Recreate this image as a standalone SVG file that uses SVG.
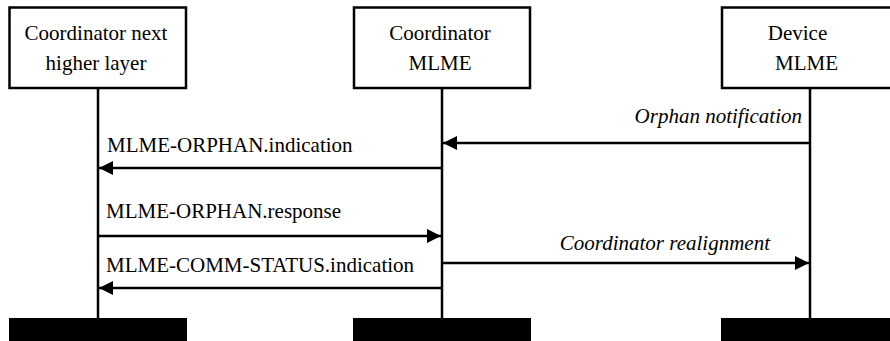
<svg xmlns="http://www.w3.org/2000/svg" width="890" height="341" viewBox="0 0 890 341">
<style>
.box{fill:#fff;stroke:#000;stroke-width:2.5}
.life{stroke:#000;stroke-width:2.5}
.bar{fill:#000}
.c{text-anchor:middle}
.msg{stroke:#000;stroke-width:2.5;fill:none;marker-end:url(#ah)}
</style>
<defs>
<marker id="ah" markerUnits="userSpaceOnUse" markerWidth="14" markerHeight="14" refX="14" refY="7" orient="auto">
<path d="M0,0 L14,7 L0,14 Z" fill="#000"/>
</marker>
</defs>
<g font-family="Liberation Serif, DejaVu Serif, serif" font-size="21" fill="#000">
<g id="n1">
<rect class="box" x="9.5" y="7.5" width="176.5" height="80.5"/>
<text class="c" x="96" y="40">Coordinator next</text>
<text class="c" x="96" y="70">higher layer</text>
<line class="life" x1="98" y1="88" x2="98" y2="318"/>
<rect class="bar" x="9" y="318" width="178" height="23"/>
</g>
<g id="n2">
<rect class="box" x="354" y="7.5" width="176" height="80.5"/>
<text class="c" x="440" y="40">Coordinator</text>
<text class="c" x="440" y="70">MLME</text>
<line class="life" x1="442" y1="88" x2="442" y2="318"/>
<rect class="bar" x="353" y="318" width="178" height="23"/>
</g>
<g id="n3">
<rect class="box" x="722" y="7.5" width="176" height="80.5"/>
<text class="c" x="797.5" y="40">Device</text>
<text class="c" x="806.5" y="70">MLME</text>
<line class="life" x1="810" y1="88" x2="810" y2="318"/>
<rect class="bar" x="721" y="318" width="169" height="23"/>
</g>
<g id="connectors">
<line class="msg" x1="810" y1="143" x2="443" y2="143"/>
<text font-style="italic" x="802" y="123" text-anchor="end">Orphan notification</text>
<line class="msg" x1="442" y1="168" x2="99" y2="168"/>
<text x="107" y="152">MLME-ORPHAN.indication</text>
<line class="msg" x1="98" y1="236" x2="441" y2="236"/>
<text x="106" y="218">MLME-ORPHAN.response</text>
<line class="msg" x1="442" y1="263" x2="809" y2="263"/>
<text font-style="italic" x="770" y="250" text-anchor="end">Coordinator realignment</text>
<line class="msg" x1="442" y1="288" x2="99" y2="288"/>
<text x="106" y="272">MLME-COMM-STATUS.indication</text>
</g>
</g>
</svg>
